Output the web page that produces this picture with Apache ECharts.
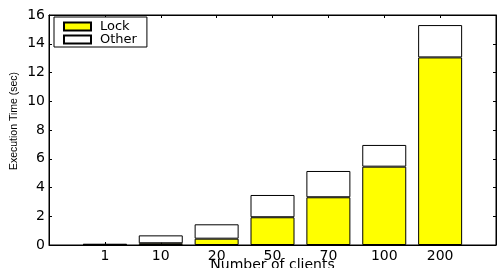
<!DOCTYPE html>
<html>
<head>
<meta charset="utf-8">
<script src="https://cdn.jsdelivr.net/npm/echarts@6/dist/echarts.min.js"></script>
<style>
  html, body { margin: 0; padding: 0; background: #fff; }
  #chart { width: 498px; height: 268px; }
</style>
</head>
<body>
<div id="chart"></div>
<script>
// number of clients on the x axis
var clients = ['1', '10', '20', '50', '70', '100', '200'];
// execution time split in two parts (sec)
var lockTime = [0.02, 0.12, 0.44, 1.93, 3.32, 5.45, 13.05];
var otherTime = [0.05, 0.55, 1.0, 1.55, 1.83, 1.51, 2.25];
var yTicks = [0, 2, 4, 6, 8, 10, 12, 14, 16];

var myChart = echarts.init(document.getElementById('chart'));

// the axis leaves one empty slot at each end
var slots = [''].concat(clients).concat(['']);
function pad(arr) {
    return ['-'].concat(arr).concat(['-']);
}

var tickFont = 'DejaVu Sans';

function line() {
    return { show: true, onZero: false, lineStyle: { color: '#000', width: 1 } };
}
function ticks() {
    return { show: true, inside: true, length: 3, interval: 0, lineStyle: { color: '#000' } };
}

var option = {
    animation: false,
    backgroundColor: '#fff',
    grid: {
        left: 49, right: 2, top: 15, bottom: 23,
        outerBoundsMode: 'none', containLabel: false,
        show: true, borderColor: '#000', borderWidth: 1, backgroundColor: 'transparent'
    },
    legend: {
        orient: 'vertical',
        left: 54,
        top: 17,
        padding: [3, 10, 1, 9],
        itemWidth: 27,
        itemHeight: 8,
        itemGap: 0,
        backgroundColor: '#fff',
        borderColor: '#000',
        borderWidth: 1,
        borderRadius: 0,
        textStyle: { fontFamily: tickFont, fontSize: 13, lineHeight: 11, color: '#000', padding: [0, 0, 0, 4] },
        data: [
            { name: 'Lock', icon: 'rect' },
            { name: 'Other', icon: 'rect' }
        ]
    },
    xAxis: [{
        type: 'category',
        data: slots,
        boundaryGap: false,
        name: 'Number of clients',
        nameLocation: 'middle',
        nameGap: 13,
        nameMoveOverlap: false,
        nameTextStyle: { fontFamily: tickFont, fontSize: 14, color: '#000' },
        axisLine: line(),
        axisTick: ticks(),
        axisLabel: { fontFamily: tickFont, fontSize: 14, color: '#000', margin: 4, interval: 0 },
        splitLine: { show: false }
    }, {
        type: 'category',
        data: slots,
        boundaryGap: false,
        position: 'top',
        axisLine: line(),
        axisTick: ticks(),
        axisLabel: { show: false },
        splitLine: { show: false }
    }],
    yAxis: [{
        type: 'value',
        min: 0,
        max: 16,
        interval: 2,
        name: 'Execution Time (sec)',
        nameLocation: 'middle',
        nameGap: 29,
        nameMoveOverlap: false,
        nameTextStyle: { fontFamily: 'Liberation Sans', fontSize: 10.5, color: '#000', padding: [0, 0, 0, 18] },
        axisLine: line(),
        axisTick: ticks(),
        axisLabel: {
            fontFamily: tickFont, fontSize: 14, color: '#000', margin: 4,
            formatter: function (v) { return yTicks.indexOf(v) >= 0 ? String(v) : ''; }
        },
        splitLine: { show: false }
    }, {
        type: 'value',
        position: 'right',
        min: 0,
        max: 16,
        interval: 2,
        axisLine: line(),
        axisTick: ticks(),
        axisLabel: { show: false },
        splitLine: { show: false }
    }],
    series: [
        {
            name: 'Lock',
            type: 'bar',
            stack: 'time',
            barWidth: 44,
            data: pad(lockTime),
            itemStyle: { color: '#ffff00', borderColor: '#000', borderWidth: 1 }
        },
        {
            name: 'Other',
            type: 'bar',
            stack: 'time',
            barWidth: 44,
            data: pad(otherTime),
            itemStyle: { color: '#fff', borderColor: '#000', borderWidth: 1 }
        }
    ]
};

myChart.setOption(option);
window.addEventListener('resize', function () {
    myChart.resize();
});
</script>
</body>
</html>
